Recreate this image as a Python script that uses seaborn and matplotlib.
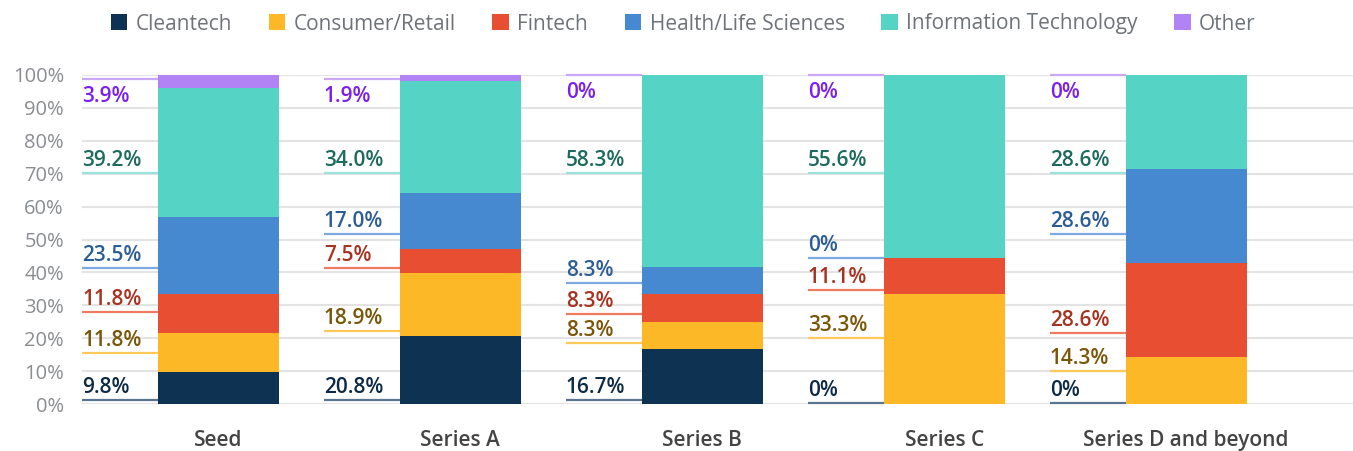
import numpy as np
import pandas as pd
import seaborn as sns
import matplotlib.pyplot as plt
from matplotlib.patches import Patch

stages = ["Seed", "Series A", "Series B", "Series C", "Series D and beyond"]
sectors = ["Cleantech", "Consumer/Retail", "Fintech", "Health/Life Sciences",
           "Information Technology", "Other"]

cleantech = [9.8, 20.8, 16.7, 0.0, 0.0]
consumer = [11.8, 18.9, 8.3, 33.3, 14.3]
fintech = [11.8, 7.5, 8.3, 11.1, 28.6]
health = [23.5, 17.0, 8.3, 0.0, 28.6]
info_tech = [39.2, 34.0, 58.3, 55.6, 28.6]
other = [3.9, 1.9, 0.0, 0.0, 0.0]

# label anchor heights (layout only, in axis %), one row per sector
label_y = [
    [1.2, 1.2, 1.2, 0.3, 0.3],
    [15.4, 22.2, 18.4, 20.2, 10.1],
    [27.9, 41.3, 27.4, 34.7, 21.5],
    [41.2, 51.7, 36.7, 44.4, 51.7],
    [70.3, 70.3, 70.3, 70.3, 70.3],
    [98.8, 98.8, 100, 100, 100],
]

bar_colors = ["#0d3252", "#fdb827", "#e84f32", "#4789d0", "#55d3c4", "#b283f5"]
line_colors = ["#5a7590", "#fdca5a", "#f07a60", "#7aaae0", "#9ae3da", "#caa8f8"]
text_colors = ["#0d2a45", "#7a5608", "#a83220", "#2d5d96", "#1c6b5c", "#7a1ff0"]

df = pd.DataFrame({"stage": stages, "Cleantech": cleantech, "Consumer/Retail": consumer,
                   "Fintech": fintech, "Health/Life Sciences": health,
                   "Information Technology": info_tech, "Other": other})
cum = df[sectors].cumsum(axis=1).clip(upper=100)

sns.set_style("white")
plt.rcParams['font.family'] = ['Open Sans', 'DejaVu Sans']

fig = plt.figure(figsize=(13.53, 4.51), dpi=100)
ax = fig.add_axes([82 / 1353, 47 / 451, 1 - 82 / 1353, 329 / 451])

# stacked bars: draw cumulative tops from the top layer down
for i in range(len(sectors) - 1, -1, -1):
    sns.barplot(x=df["stage"], y=cum[sectors[i]], color=bar_colors[i], width=0.5,
                saturation=1, linewidth=0, edgecolor="none", ax=ax, zorder=2)

ax.set_xlim(-0.564, 4.69)
ax.set_ylim(0, 100)
ax.set_yticks(range(0, 101, 10))
ax.set_yticklabels([f"{v}%" for v in range(0, 101, 10)], color="#8a8d91", fontsize=14.5)
ax.yaxis.grid(True, color="#e3e3e3", linewidth=1.5, zorder=0)
ax.set_axisbelow(True)
ax.tick_params(axis="y", length=0, pad=13)
ax.tick_params(axis="x", length=0, pad=19)
for lab in ax.get_xticklabels():
    lab.set_fontsize(15)
    lab.set_color("#444444")
    lab.set_fontweight("semibold")
ax.set_xlabel("")
ax.set_ylabel("")
sns.despine(ax=ax, left=True, bottom=True)

values = [cleantech, consumer, fintech, health, info_tech, other]
for j in range(len(stages)):
    x0 = j - 0.564
    x1 = j - 0.25
    for i in range(len(sectors)):
        yl = label_y[i][j]
        ax.hlines(yl, x0, x1, color=line_colors[i], linewidth=1.6, zorder=3, clip_on=False)
        v = values[i][j]
        txt = "0%" if v == 0 else f"{v:.1f}%"
        if i == len(sectors) - 1:
            # top label hangs under its leader line
            ax.text(x0, yl - 2.0, txt, color=text_colors[i], fontsize=15,
                    fontweight="semibold", ha="left", va="top", zorder=4)
        else:
            ax.text(x0, yl + 0.6, txt, color=text_colors[i], fontsize=15,
                    fontweight="semibold", ha="left", va="bottom", zorder=4)

handles = [Patch(facecolor=c, edgecolor="none") for c in bar_colors]
fig.legend(handles, sectors, loc="center", bbox_to_anchor=(0.505, 1 - 24 / 451),
           ncol=6, frameon=False, fontsize=15, handlelength=0.8, handleheight=0.8,
           handletextpad=0.4, columnspacing=1.75, labelcolor="#6e737a")

fig.savefig("out.png", dpi=100)
